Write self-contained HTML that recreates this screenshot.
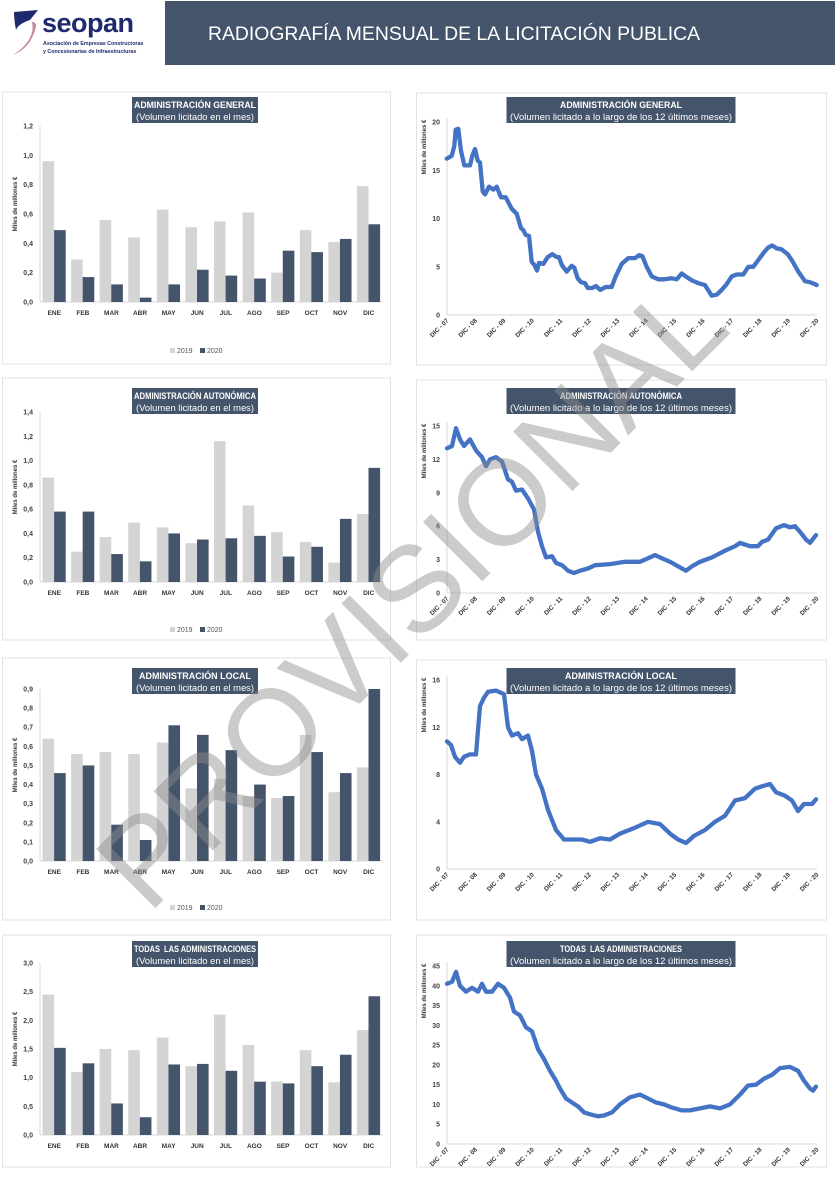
<!DOCTYPE html>
<html><head><meta charset="utf-8">
<style>
html,body{margin:0;padding:0;background:#fff;width:835px;height:1200px;overflow:hidden;font-family:"Liberation Sans",sans-serif;}
svg{position:absolute;left:0;top:0}
</style></head>
<body>
<svg id="s" width="835" height="1200" viewBox="0 0 835 1200" xmlns="http://www.w3.org/2000/svg" font-family="Liberation Sans, sans-serif"></svg>
<script>
var S=[];
function a(t){S.push(t);}
a('<rect x="0" y="0" width="835" height="1200" fill="#fff"/>');
a('<rect x="165" y="1" width="670" height="64" fill="#44546a"/>');
a('<text x="208" y="40" font-size="19" fill="#fff" textLength="492" lengthAdjust="spacingAndGlyphs">RADIOGRAFÍA MENSUAL DE LA LICITACIÓN PUBLICA</text>');
a('<path d="M14 12 L38 10 L30 20 Q18 24 16 30 Q14 20 14 12Z" fill="#1f2a6e"/>');
a('<path d="M13 55 Q30 48 35 30 Q38 22 32 22 Q36 40 13 55Z" fill="#c48a98"/>');
a('<text x="42" y="32" font-size="27" font-weight="bold" fill="#1f2a6e" letter-spacing="-0.5">seopan</text>');
a('<text x="43" y="45" font-size="5.3" fill="#1f2a6e" font-weight="bold">Asociación de Empresas Constructoras</text>');
a('<text x="43" y="53" font-size="5.3" fill="#1f2a6e" font-weight="bold">y Concesionarias de Infraestructuras</text>');
var M=["ENE","FEB","MAR","ABR","MAY","JUN","JUL","AGO","SEP","OCT","NOV","DIC"];
function title(cx,y,w,l1,l2,w1,w2){
 a('<rect x="'+(cx-w/2)+'" y="'+y+'" width="'+w+'" height="26" fill="#44546a"/>');
 a('<text x="'+cx+'" y="'+(y+11)+'" font-size="9" font-weight="bold" fill="#fff" text-anchor="middle" textLength="'+w1+'" lengthAdjust="spacingAndGlyphs">'+l1+'</text>');
 a('<text x="'+cx+'" y="'+(y+23)+'" font-size="9" fill="#fff" text-anchor="middle" textLength="'+w2+'" lengthAdjust="spacingAndGlyphs">'+l2+'</text>');
}
function bars(py0,py1,ty,top,bot,max,step,d19,d20,leg,l1,w1){
 a('<rect x="2.5" y="'+py0+'" width="388" height="'+(py1-py0)+'" fill="none" stroke="#e2e2e2"/>');
 title(195,ty,126,l1,"(Volumen licitado en el mes)",w1,118);
 var x0=40,x1=383,cw=(x1-x0)/12,k=(bot-top)/max;
 a('<line x1="'+x0+'" y1="'+top+'" x2="'+x0+'" y2="'+bot+'" stroke="#d9d9d9"/>');
 a('<line x1="'+x0+'" y1="'+bot+'" x2="'+x1+'" y2="'+bot+'" stroke="#d9d9d9"/>');
 for(var v=0;v<=max+1e-9;v+=step){var y=bot-v*k;
  a('<text x="33" y="'+(y+2.5)+'" font-size="7" font-weight="bold" fill="#444" text-anchor="end">'+v.toFixed(1).replace('.',',')+'</text>');}
 a('<text transform="translate(17,'+((top+bot)/2-10)+') rotate(-90)" font-size="6" font-weight="bold" fill="#333" text-anchor="middle">Miles de millones €</text>');
 for(var i=0;i<12;i++){var cx=x0+cw*i;
  a('<rect x="'+(cx+2.5)+'" y="'+(bot-d19[i]*k)+'" width="11.6" height="'+(d19[i]*k)+'" fill="#d4d4d4"/>');
  a('<rect x="'+(cx+14.1)+'" y="'+(bot-d20[i]*k)+'" width="11.6" height="'+(d20[i]*k)+'" fill="#44546a"/>');
  a('<text x="'+(cx+cw/2)+'" y="'+(bot+13)+'" font-size="6.5" font-weight="bold" fill="#333" text-anchor="middle">'+M[i]+'</text>');}
 if(leg){a('<rect x="170" y="'+(leg-5)+'" width="5" height="5" fill="#d4d4d4"/><text x="177" y="'+leg+'" font-size="7" fill="#555">2019</text>');
  a('<rect x="200" y="'+(leg-5)+'" width="5" height="5" fill="#44546a"/><text x="207" y="'+leg+'" font-size="7" fill="#555">2020</text>');}
}
bars(92,364,97,126,302,1.2,0.2,[.96,.29,.56,.44,.63,.51,.55,.61,.2,.49,.41,.79],[.49,.17,.12,.03,.12,.22,.18,.16,.35,.34,.43,.53],353,"ADMINISTRACIÓN GENERAL",122);
bars(378,640,388,412,582,1.4,0.2,[.86,.25,.37,.49,.45,.32,1.16,.63,.41,.33,.16,.56],[.58,.58,.23,.17,.40,.35,.36,.38,.21,.29,.52,.94],632,"ADMINISTRACIÓN AUTONÓMICA",122);
bars(658,920,668,689,861,0.9,0.1,[.64,.56,.57,.56,.62,.38,.43,.34,.33,.66,.36,.49],[.46,.50,.19,.11,.71,.66,.58,.40,.34,.57,.46,.90],910,"ADMINISTRACIÓN LOCAL",112);
bars(935,1167,941,963,1135,3.0,0.5,[2.45,1.1,1.5,1.48,1.7,1.2,2.1,1.57,.93,1.48,.92,1.83],[1.52,1.25,.55,.31,1.23,1.24,1.12,.93,.9,1.2,1.4,2.42],0,"TODAS&#160; LAS ADMINISTRACIONES",122);

function line(py0,py1,ty,l1,w1,top,bot,max,step,pts){
 a('<rect x="416.5" y="'+py0+'" width="410" height="'+(py1-py0)+'" fill="none" stroke="#e2e2e2"/>');
 title(621,ty,229,l1,"(Volumen licitado a lo largo de los 12 últimos meses)",w1,222);
 var x0=447,x1=817,k=(bot-top)/max;
 a('<line x1="'+x0+'" y1="'+(top-4)+'" x2="'+x0+'" y2="'+bot+'" stroke="#d9d9d9"/>');
 a('<line x1="'+x0+'" y1="'+bot+'" x2="'+x1+'" y2="'+bot+'" stroke="#d9d9d9"/>');
 for(var v=0;v<=max+1e-9;v+=step){var y=bot-v*k;
  a('<text x="440" y="'+(y+2.5)+'" font-size="7" font-weight="bold" fill="#444" text-anchor="end">'+v+'</text>');}
 a('<text transform="translate(426,'+(top+25)+') rotate(-90)" font-size="6" font-weight="bold" fill="#333" text-anchor="middle">Miles de millones €</text>');
 for(var j=0;j<=13;j++){var x=x0+(x1-x0)*j/13;var n=7+j;var yy=(n<10?'0':'')+n;
  a('<text transform="translate('+(x+2)+','+(bot+6)+') rotate(-45)" font-size="6.3" font-weight="bold" fill="#333" text-anchor="end">DIC - '+yy+'</text>');}
 var d='';for(var i=0;i<pts.length;i+=2){d+=(i?'L':'M')+pts[i].toFixed(1)+' '+(bot-pts[i+1]*k).toFixed(1);}
 a('<path d="'+d+'" fill="none" stroke="#4472c4" stroke-width="4.3" stroke-linejoin="round" stroke-linecap="round"/>');
}
var z=[95,16.2,110,16.5,118,17.5,122,19.2,130,19.3,138,17,148,15.5,165,15.5,172,16.5,180,17.2,188,16,195,15.8,203,12.8,210,12.5,222,13.3,235,13,245,13.3,258,12.2,272,12.2,290,11,305,10.5,318,9,325,8.8,332,8.3,342,8.2,350,5.5,358,5.2,366,4.6,372,5.4,385,5.3,398,6,412,6.3,425,6,432,6,440,5.2,455,4.5,470,5.1,478,4.9,488,3.8,498,3.4,510,3.3,518,2.8,532,2.8,543,3,556,2.6,572,2.9,590,2.9,602,4,620,5.3,640,5.9,660,5.9,672,6.2,682,6.1,695,5,710,4,730,3.7,748,3.7,770,3.8,785,3.7,800,4.3,812,4,830,3.6,850,3.3,870,3.1,890,2,905,2.1,920,2.6,935,3.2,950,4,965,4.2,985,4.2,1000,5,1015,5,1030,5.7,1045,6.4,1060,7,1072,7.2,1085,6.9,1100,6.8,1118,6.3,1132,5.6,1150,4.5,1170,3.5,1185,3.4,1200,3.2,1205,3.1];
for(var i=0;i<z.length;i+=2)z[i]=415+z[i]/3;
line(93,365,97,"ADMINISTRACIÓN GENERAL",122,122,315,20,5,z);
line(380,640,388,"ADMINISTRACIÓN AUTONÓMICA",122,426,593,15,3,[447,13,452,13.2,456,14.8,460,13.8,464,13.2,470,13.8,476,12.8,482,12.2,486,11.4,490,12,496,12.2,502,11.8,508,10.2,512,10,516,9.2,522,9.3,528,8.5,534,7.5,538,5.5,542,4.2,546,3.2,552,3.3,556,2.7,562,2.5,568,2,574,1.8,580,2,588,2.2,595,2.5,610,2.6,625,2.8,640,2.8,650,3.2,655,3.4,660,3.2,670,2.8,680,2.3,686,2,692,2.4,700,2.8,712,3.2,725,3.8,735,4.2,740,4.5,750,4.2,758,4.2,762,4.6,768,4.8,776,5.8,784,6.1,790,5.9,795,6,800,5.5,806,4.8,810,4.5,816,5.2]);
line(660,920,668,"ADMINISTRACIÓN LOCAL",112,680,869,16,4,[447,10.8,451,10.5,455,9.5,460,9.0,464,9.5,470,9.7,476,9.7,480,13.8,484,14.5,488,15,496,15.1,504,14.8,508,12,512,11.3,518,11.5,522,11,528,11.3,532,10,536,8,542,6.8,548,5,556,3.3,564,2.5,572,2.5,582,2.5,590,2.3,600,2.6,610,2.5,620,3,635,3.5,648,4,660,3.8,670,3,678,2.5,686,2.2,694,2.8,705,3.3,715,4,725,4.5,735,5.8,745,6,755,6.8,762,7,770,7.2,776,6.5,785,6.2,792,5.8,798,4.9,804,5.5,812,5.5,816,5.9]);
line(935,1167,941,"TODAS&#160; LAS ADMINISTRACIONES",122,966,1144,45,5,[447,40.5,452,41,456,43.5,460,40,466,38.5,472,39.5,478,38.5,482,40.5,486,38.5,492,38.5,498,40.5,504,39.5,510,37,514,33.5,520,32.5,526,29.5,532,28.5,538,24,544,21.5,550,18.5,556,16,560,14,566,11.5,572,10.5,578,9.5,584,8,590,7.5,598,7,604,7.2,612,8,620,10,630,11.8,640,12.5,648,11.5,656,10.5,664,10,672,9.2,682,8.5,690,8.5,700,9,710,9.5,720,9,730,10,740,12.5,748,14.8,756,15,764,16.5,772,17.5,780,19.2,790,19.5,798,18.5,804,16,810,14,813,13.5,816,14.5]);
a('<text transform="translate(418,600) rotate(-45)" font-size="122" fill="#8c8c8c" fill-opacity="0.45" text-anchor="middle" dominant-baseline="middle">PROVISIONAL</text>');
document.getElementById('s').innerHTML=S.join('');
</script>
</body></html>
